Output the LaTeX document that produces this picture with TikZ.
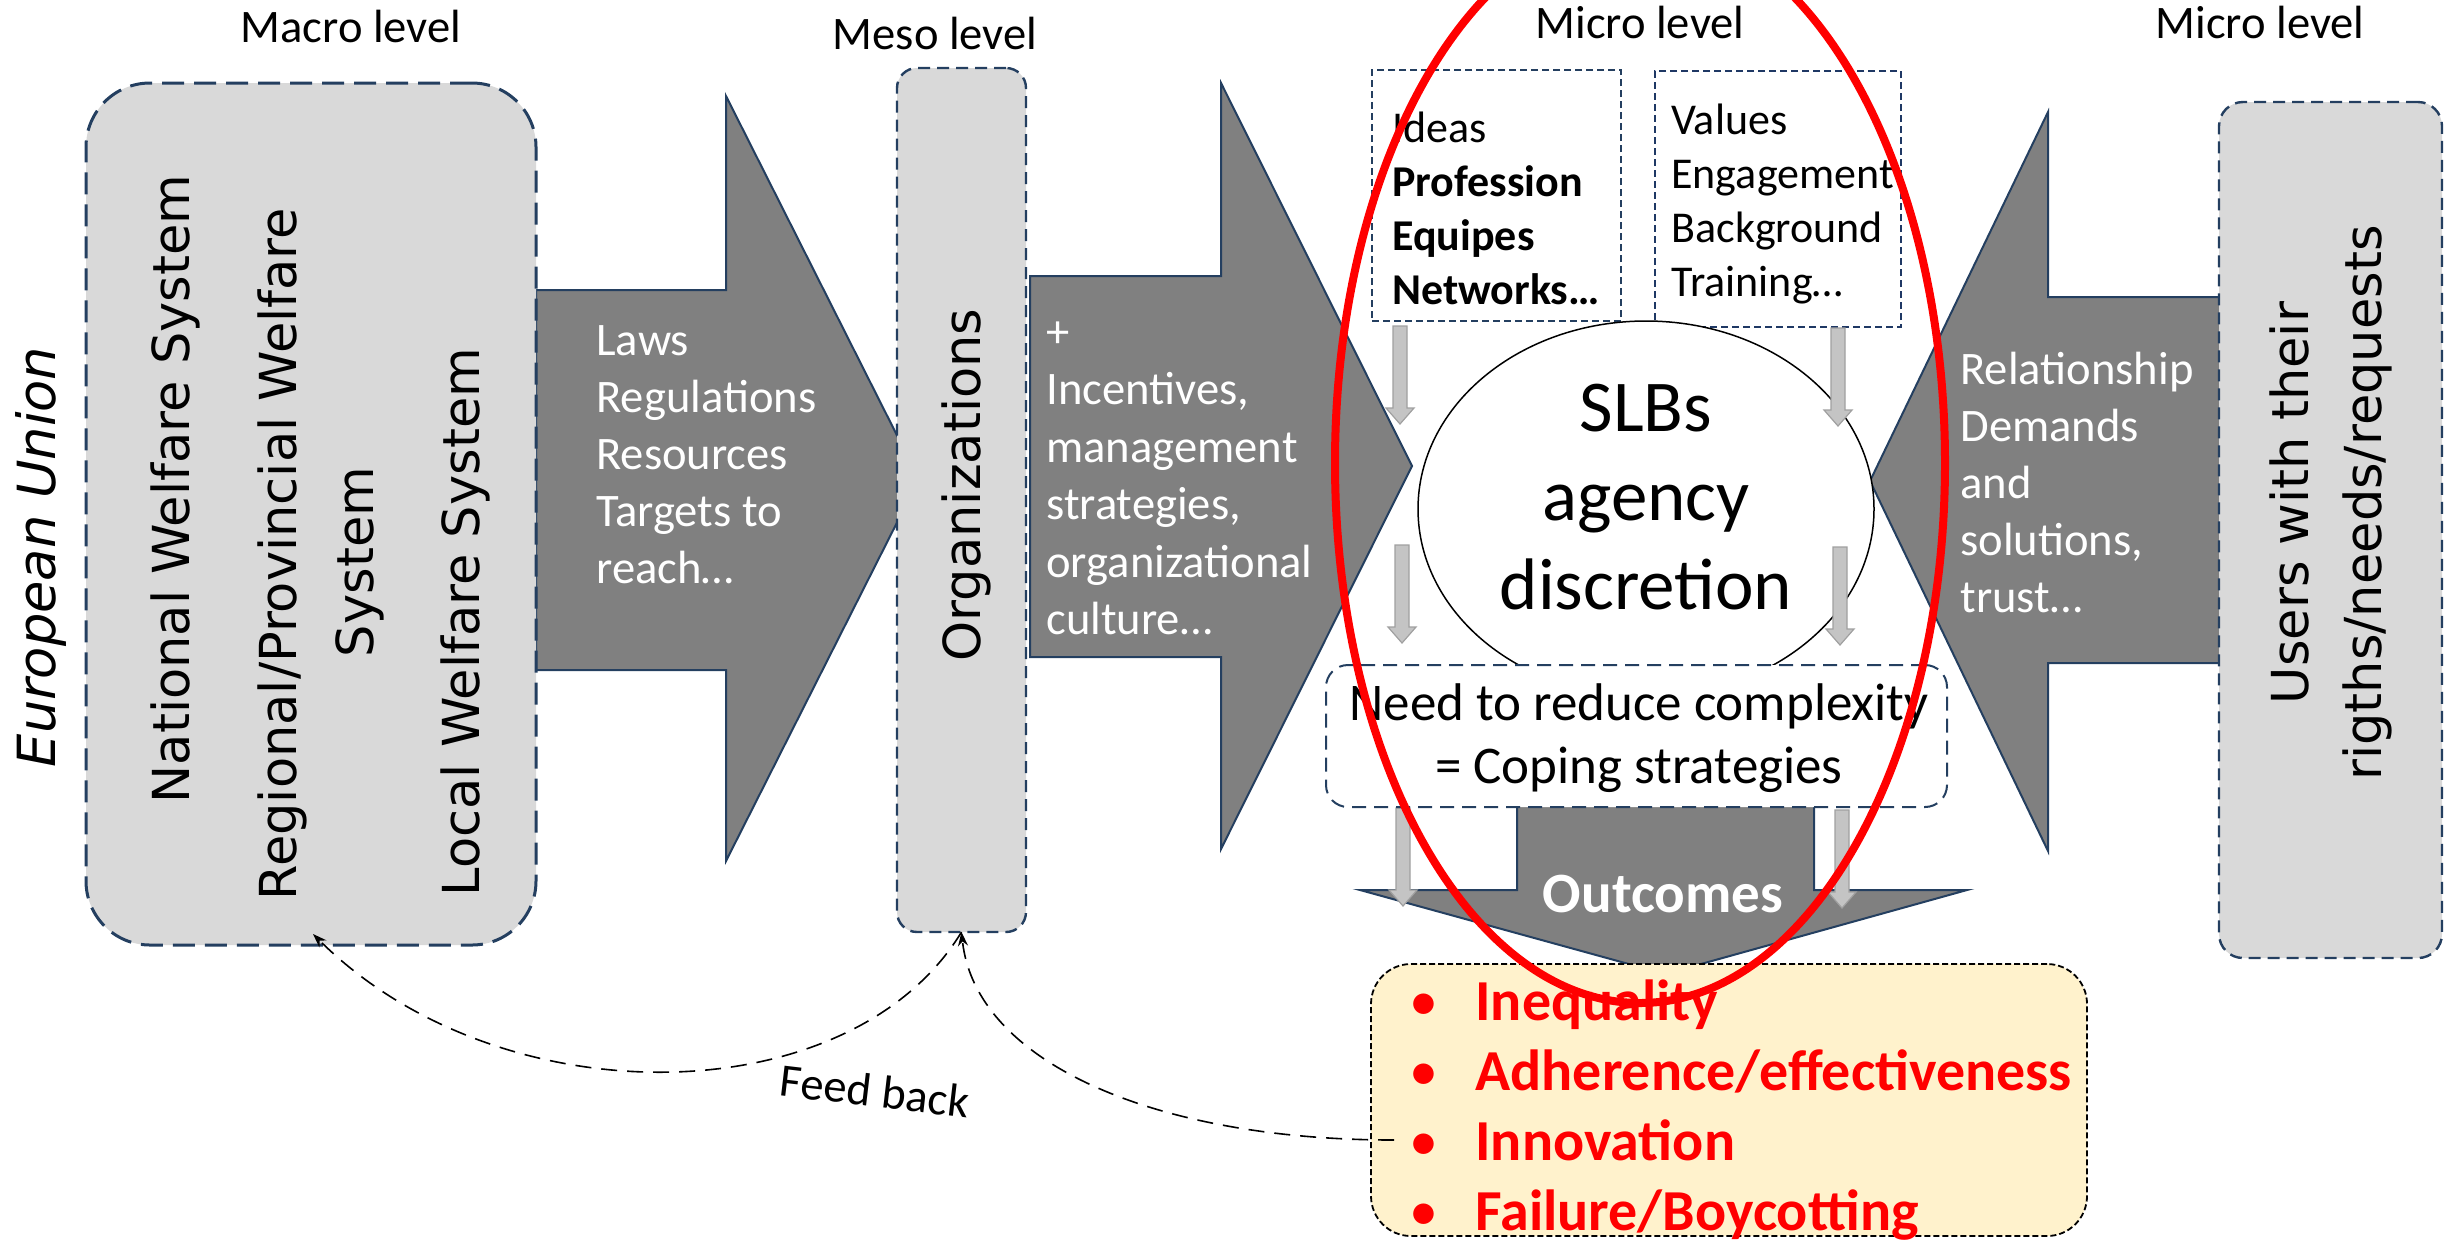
\documentclass[tikz,border=0pt]{standalone}
\usepackage{fontspec}
\setmainfont{Carlito}
\newfontfamily\verd{DejaVu Sans}
\usetikzlibrary{arrows.meta,shapes.geometric}
\definecolor{boxgray}{HTML}{D9D9D9}
\definecolor{navy}{HTML}{243F60}
\definecolor{darknavy}{HTML}{1F3864}
\definecolor{arrowgray}{HTML}{808080}
\definecolor{lightarrow}{HTML}{C4C4C4}
\definecolor{lightedge}{HTML}{A0A0A0}
\definecolor{cream}{HTML}{FFF2CC}
\definecolor{pured}{RGB}{255,0,0}
\newcommand\sarrow[3]{\filldraw[sarr] ({#1-7},#2) -- ({#1+7},#2) -- ({#1+7},{#3-16}) -- ({#1+14},{#3-16}) -- (#1,#3) -- ({#1-14},{#3-16}) -- ({#1-7},{#3-16}) -- cycle;}
\begin{document}
\begin{tikzpicture}[x=0.5pt,y=-0.5pt,
  bigarrow/.style={fill=arrowgray,draw=navy,line width=1pt,line join=miter},
  macrobox/.style={draw=navy,fill=boxgray,line width=1.5pt,dash pattern=on 11pt off 5pt,rounded corners=32pt,inner sep=0,outer sep=0},
  slimbox/.style={draw=navy,fill=boxgray,line width=1.2pt,dash pattern=on 6pt off 3.5pt,inner sep=0,outer sep=0},
  microbox/.style={draw=navy,fill=white,line width=1pt,dash pattern=on 3.5pt off 2pt,inner sep=0,outer sep=0},
  copebox/.style={draw=navy,fill=white,line width=1pt,dash pattern=on 7pt off 4pt,rounded corners=11pt,inner sep=0,outer sep=0},
  outbox/.style={draw=black,fill=cream,line width=0.9pt,dash pattern=on 3pt off 1.5pt,rounded corners=20pt,inner sep=0,outer sep=0},
  sarr/.style={fill=lightarrow,draw=lightedge,line width=0.6pt},
  wtxt/.style={text=white,font=\fontsize{23.3}{28}\selectfont,inner sep=0,anchor=base west},
  btxt/.style={font=\fontsize{22}{27}\selectfont,inner sep=0,anchor=base west},
  vtxt/.style={font=\verd\fontsize{25.5}{30}\selectfont,rotate=90,anchor=base,inner sep=0},
  hdr/.style={font=\fontsize{23.3}{28}\selectfont,anchor=base,inner sep=0},
  slbtxt/.style={font=\fontsize{36.5}{44}\selectfont,anchor=base,inner sep=0},
  copetxt/.style={font=\fontsize{26.5}{31}\selectfont,anchor=base,inner sep=0},
  redtxt/.style={text=pured,font=\bfseries\fontsize{29}{35}\selectfont,anchor=base west,inner sep=0},
  bullet/.style={text=pured,font=\fontsize{29}{35}\selectfont,anchor=base,inner sep=0},
  fb/.style={draw=black,line width=0.8pt,dash pattern=on 8pt off 5pt,-{Stealth[length=7pt,width=5pt]}}
]
\useasboundingbox (0,0) rectangle (2456,1239);

% big block arrows
\filldraw[bigarrow] (536,290) -- (726,290) -- (726,96) -- (919,479) -- (726,861) -- (726,670) -- (536,670) -- cycle;
\filldraw[bigarrow] (1030,276) -- (1221,276) -- (1221,83) -- (1412,466) -- (1221,849) -- (1221,657) -- (1030,657) -- cycle;
\filldraw[bigarrow] (2225,297) -- (2048,297) -- (2048,112) -- (1870,481) -- (2048,851) -- (2048,663) -- (2225,663) -- cycle;

% level boxes
\node[macrobox,minimum width=225pt,minimum height=431pt] (macro) at (311,514) {};
\node[slimbox,rounded corners=10pt,minimum width=64.5pt,minimum height=432pt] (org) at (961.5,500) {};
\node[slimbox,rounded corners=12pt,minimum width=111.5pt,minimum height=428pt] (users) at (2330.5,530) {};

% micro boxes
\node[microbox,minimum width=124.5pt,minimum height=125.5pt] (ideas) at (1496.5,195.5) {};
\node[microbox,draw=darknavy,line width=1.3pt,minimum width=123pt,minimum height=128pt] (values) at (1778,199) {};

% SLBs ellipse
\node[ellipse,draw=black,fill=white,line width=0.75pt,minimum width=228pt,minimum height=188pt,inner sep=0] (slb) at (1646,509) {};

% outcomes arrow
\filldraw[bigarrow] (1517,800) -- (1814,800) -- (1814,890) -- (1967,890) -- (1665,974) -- (1360,890) -- (1517,890) -- cycle;

% small gray arrows
\sarrow{1400}{326}{424}
\sarrow{1838}{328}{426}
\sarrow{1402}{545}{643}
\sarrow{1840}{547}{645}
\sarrow{1403}{808}{906}
\sarrow{1842}{810}{908}

% coping box and outcomes box
\node[copebox,minimum width=310.5pt,minimum height=71pt] (coping) at (1636.5,736) {};
\node[outbox,minimum width=358pt,minimum height=136pt] (outcomes) at (1729,1100) {};

% headers
\node[hdr] (hmacro) at (351,42) {Macro level};
\node[hdr] (hmeso) at (935,49) {Meso level};
\node[hdr] (hmicroa) at (1640,38) {Micro level};
\node[hdr] (hmicrob) at (2260,38) {Micro level};

% rotated texts
\node[vtxt,font=\verd\itshape\fontsize{26.3}{30}\selectfont] (eu) at (55,557) {European Union};
\node[vtxt] (nat) at (189,489) {National Welfare System};
\node[vtxt] (reg) at (296,554) {Regional/Provincial Welfare};
\node[vtxt] (regb) at (373,562) {System};
\node[vtxt] (loc) at (479,622) {Local Welfare System};
\node[vtxt] (orgt) at (980,485) {Organizations};
\node[vtxt] (usa) at (2308,503) {Users with their};
\node[vtxt] (usb) at (2381,503) {rigths/needs/requests};

% arrow texts
\foreach \t [count=\i] in {Laws,Regulations,Resources,Targets to,reach…}
  \node[wtxt] (law\i) at (596,{355+57*(\i-1)}) {\t};
\foreach \t [count=\i] in {+,{Incentives,},management,{strategies,},organizational,culture…}
  \node[wtxt] (inc\i) at (1046,{347+57.5*(\i-1)}) {\t};
\foreach \t [count=\i] in {Relationship,Demands,and,{solutions,},trust…}
  \node[wtxt] (rel\i) at (1960,{384+57*(\i-1)}) {\t};

% micro box texts
\node[btxt] (id1) at (1392,142) {Ideas};
\node[btxt,font=\bfseries\fontsize{22}{27}\selectfont] (id2) at (1392,196) {Profession};
\node[btxt,font=\bfseries\fontsize{22}{27}\selectfont] (id3) at (1392,250) {Equipes};
\node[btxt,font=\bfseries\fontsize{22}{27}\selectfont] (id4) at (1392,304) {Networks…};
\node[btxt] (va1) at (1671,134) {Values};
\node[btxt] (va2) at (1671,188) {Engagement};
\node[btxt] (va3) at (1671,242) {Background};
\node[btxt] (va4) at (1671,296) {Training…};

% SLBs text
\node[slbtxt] (s1) at (1646,431) {SLBs};
\node[slbtxt] (s2) at (1646,520) {agency};
\node[slbtxt] (s3) at (1646,609) {discretion};

% coping text
\node[copetxt] (c1) at (1639,720) {Need to reduce complexity};
\node[copetxt] (c2) at (1639,783) {= Coping strategies};

% outcomes label
\node[anchor=base,inner sep=0,text=white,font=\bfseries\fontsize{28.5}{34}\selectfont] (outl) at (1663,912) {Outcomes};

% red bullets
\foreach \t [count=\i] in {Inequality,Adherence/effectiveness,Innovation,Failure/Boycotting}{
  \node[bullet] (b\i) at (1424,{1020+70*(\i-1)}) {•};
  \node[redtxt] (r\i) at (1475,{1020+70*(\i-1)}) {\t};
}

% feedback
\coordinate (fbstart) at (1394,1140);
\coordinate (fbmacro) at (313,934);
\draw[fb] (fbstart) .. controls (1150,1140) and (975,1060) .. (org.south);
\draw[fb] (org.south) .. controls (850,1115) and (500,1120) .. (fbmacro);
\node[rotate=-6.7,inner sep=0,font=\fontsize{23.3}{28}\selectfont] (fbl) at (875,1091) {Feed back};

% red focus ellipse
\coordinate (focus) at (1640,463);
\draw[draw=pured,line width=4pt] (focus) ellipse [x radius=152.5pt, y radius=270pt];
\end{tikzpicture}
\end{document}
